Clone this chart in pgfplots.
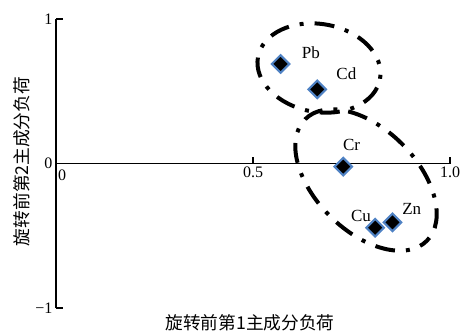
\documentclass[border=0pt]{standalone}
\usepackage{fontspec}
\setmainfont{Liberation Serif}
\newfontfamily\cjk{Noto Sans CJK SC}
\usepackage{pgfplots}
\pgfplotsset{compat=1.18}
\definecolor{mblue}{HTML}{4F82C4}
\begin{document}
\begin{tikzpicture}[x=1pt,y=1pt]
\useasboundingbox (0,0) rectangle (463,-333);
\begin{axis}[
  at={(56pt,-308pt)}, anchor=south west,
  scale only axis, width=394pt, height=289pt,
  xmin=0, xmax=1, ymin=-1, ymax=1,
  axis x line=middle, axis y line=left,
  axis line style={-, line width=1.4pt},
  every inner x axis line/.append style={-},
  every outer y axis line/.append style={-},
  xtick={0.5,1}, xticklabels={0.5,1.0},
  ytick={-1,0,1}, yticklabels={−1,0,1},
  tick align=inside, major tick length=7pt,
  tick style={line width=1.4pt, black},
  /pgf/number format/assume math mode=true,
  tick label style={font=\fontsize{16}{16}\selectfont},
  clip=false,
]
\addplot[only marks, mark=square*, mark size=6.2pt,
  mark options={rotate=45, fill=black, draw=mblue, line width=2.1pt}]
  coordinates {(0.570,0.689) (0.663,0.513) (0.729,-0.022) (0.810,-0.444) (0.854,-0.407)};
\node[font=\fontsize{17}{17}\selectfont] at (axis cs:0.647,0.765) {Pb};
\node[font=\fontsize{17}{17}\selectfont] at (axis cs:0.737,0.624) {Cd};
\node[font=\fontsize{17}{17}\selectfont] at (axis cs:0.750,0.128) {Cr};
\node[font=\fontsize{17}{17}\selectfont] at (axis cs:0.774,-0.362) {Cu};
\node[font=\fontsize{17}{17}\selectfont] at (axis cs:0.903,-0.316) {Zn};
\end{axis}
\node[font=\fontsize{16}{16}\selectfont] at (62,-175) {0};
\node[font=\cjk\fontsize{17.7}{17.7}\selectfont] at (250,-323) {旋转前第1主成分负荷};
\node[font=\cjk\fontsize{17.7}{17.7}\selectfont, rotate=90] at (22,-161.5) {旋转前第2主成分负荷};
\draw[line width=4pt, dash pattern=on 20pt off 11pt on 4pt off 11pt, dash phase=16pt, rotate around={-10:(319,-68)}]
  (319,-68) ellipse [x radius=62, y radius=44];
\draw[line width=4pt, dash pattern=on 20pt off 11pt on 4pt off 11pt, dash phase=31pt, rotate around={-45:(366,-180)}]
  (366,-180) ellipse [x radius=86, y radius=51];
\end{tikzpicture}
\end{document}
